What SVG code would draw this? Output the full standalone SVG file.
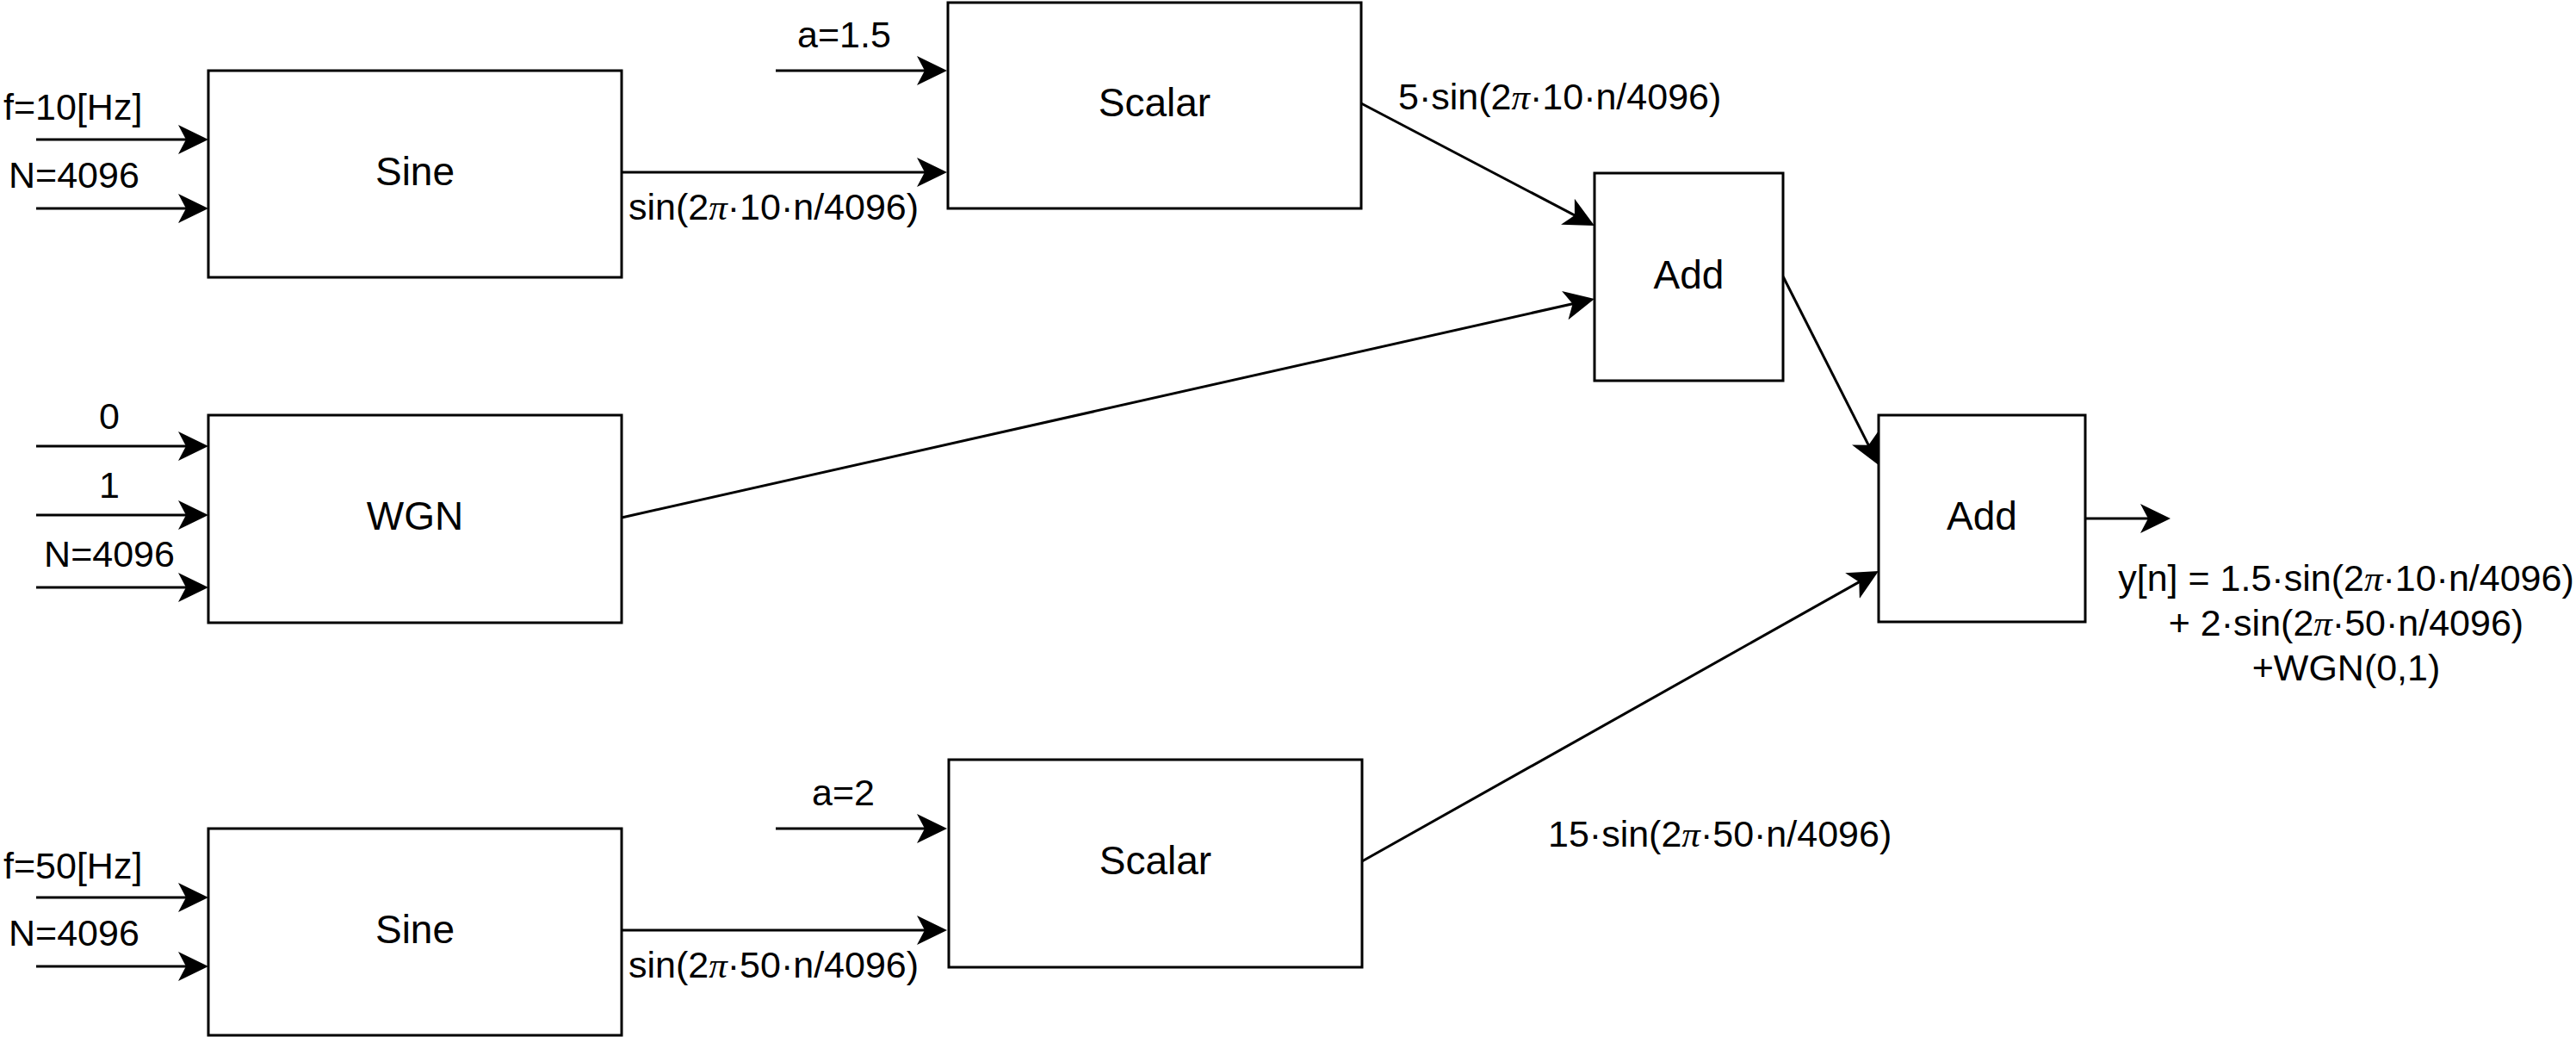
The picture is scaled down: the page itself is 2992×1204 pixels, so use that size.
<svg xmlns="http://www.w3.org/2000/svg" width="2992" height="1204" viewBox="0 0 2992 1204">
<style>
.box{fill:#fff;stroke:#000;stroke-width:3}
.t{font-family:"Liberation Sans",Arial,sans-serif;font-size:43px;fill:#000}
.n{font-family:"Liberation Sans",Arial,sans-serif;font-size:46px;fill:#000;text-anchor:middle}
.c{text-anchor:middle}
.pi{font-family:"Liberation Serif","Times New Roman",serif;font-style:italic}
.edge{fill:none;stroke:#000;stroke-width:3;marker-end:url(#arr)}
</style>
<defs>
<marker id="arr" markerUnits="userSpaceOnUse" viewBox="0 0 35 34" markerWidth="35" markerHeight="34" refX="25" refY="17" orient="auto">
<path d="M0,0 L35,17 L0,34 L9,17 Z" fill="#000"/>
</marker>
</defs>
<rect width="2992" height="1204" fill="#fff"/>
<g id="connectors">
<line class="edge" x1="42" y1="162" x2="232" y2="162"/>
<line class="edge" x1="42" y1="242" x2="232" y2="242"/>
<line class="edge" x1="901" y1="82" x2="1090" y2="82"/>
<line class="edge" x1="722" y1="200" x2="1090" y2="200"/>
<line class="edge" x1="1581" y1="120" x2="1843.1" y2="257.4"/>
<line class="edge" x1="722" y1="601" x2="1842.2" y2="349.2"/>
<line class="edge" x1="2071" y1="321" x2="2177.5" y2="531.1"/>
<line class="edge" x1="42" y1="518" x2="232" y2="518"/>
<line class="edge" x1="42" y1="598" x2="232" y2="598"/>
<line class="edge" x1="42" y1="682" x2="232" y2="682"/>
<line class="edge" x1="42" y1="1042" x2="232" y2="1042"/>
<line class="edge" x1="42" y1="1122" x2="232" y2="1122"/>
<line class="edge" x1="901" y1="962" x2="1090" y2="962"/>
<line class="edge" x1="722" y1="1080" x2="1090" y2="1080"/>
<line class="edge" x1="1582" y1="1000" x2="2173.3" y2="667.9"/>
<line class="edge" x1="2422" y1="602" x2="2511" y2="602"/>
</g>
<g id="labels">
<text class="t" x="4" y="139">f=10[Hz]</text>
<text class="t" x="10" y="218">N=4096</text>
<text class="t" x="926" y="55">a=1.5</text>
<text class="t" x="730" y="255">sin(2<tspan class="pi">π</tspan>·10·n/4096)</text>
<text class="t" x="1624" y="127">5·sin(2<tspan class="pi">π</tspan>·10·n/4096)</text>
<text class="t c" x="127" y="498">0</text>
<text class="t c" x="127" y="578">1</text>
<text class="t c" x="127" y="658">N=4096</text>
<text class="t" x="4" y="1020">f=50[Hz]</text>
<text class="t" x="10" y="1098">N=4096</text>
<text class="t" x="943" y="935">a=2</text>
<text class="t" x="730" y="1135">sin(2<tspan class="pi">π</tspan>·50·n/4096)</text>
<text class="t" x="1798" y="983">15·sin(2<tspan class="pi">π</tspan>·50·n/4096)</text>
<text class="t c" x="2725" y="686">y[n] = 1.5·sin(2<tspan class="pi">π</tspan>·10·n/4096)</text>
<text class="t c" x="2725" y="738">+ 2·sin(2<tspan class="pi">π</tspan>·50·n/4096)</text>
<text class="t c" x="2725" y="790">+WGN(0,1)</text>
</g>
<g id="sine1"><rect class="box" x="242" y="82" width="480" height="240"/><text class="n" x="482" y="215">Sine</text></g>
<g id="wgn"><rect class="box" x="242" y="482" width="480" height="241"/><text class="n" x="482" y="615">WGN</text></g>
<g id="sine2"><rect class="box" x="242" y="962" width="480" height="240"/><text class="n" x="482" y="1095">Sine</text></g>
<g id="scalar1"><rect class="box" x="1101" y="3" width="480" height="239"/><text class="n" x="1341" y="135">Scalar</text></g>
<g id="scalar2"><rect class="box" x="1102" y="882" width="480" height="241"/><text class="n" x="1342" y="1015">Scalar</text></g>
<g id="add1"><rect class="box" x="1852" y="201" width="219" height="241"/><text class="n" x="1961.5" y="335">Add</text></g>
<g id="add2"><rect class="box" x="2182" y="482" width="240" height="240"/><text class="n" x="2302" y="615">Add</text></g>
</svg>
